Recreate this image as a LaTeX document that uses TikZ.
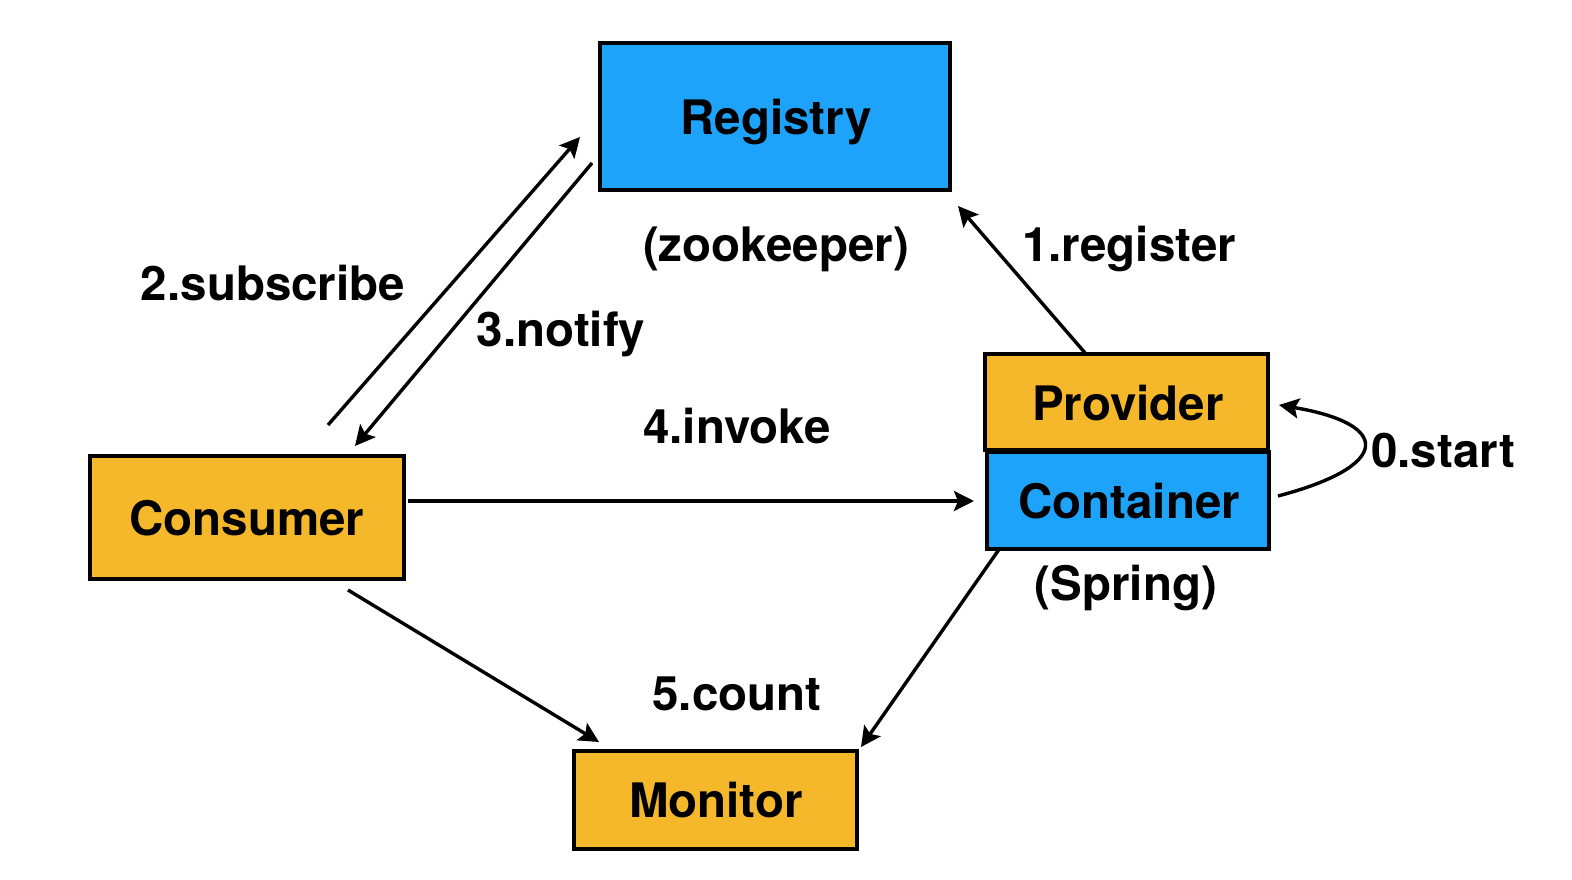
\documentclass[tikz,border=0pt]{standalone}
\usepackage{fontspec}
\setmainfont{TeX Gyre Heros}
\usetikzlibrary{arrows.meta}
\definecolor{regblue}{RGB}{30,163,250}
\definecolor{boxorange}{RGB}{246,184,43}
\tikzset{
  box/.style={draw=black, line width=4pt, inner sep=0pt, font=\fontsize{47.5}{50}\selectfont\bfseries},
  bluebox/.style={box, fill=regblue},
  orangebox/.style={box, fill=boxorange},
  lbl/.style={anchor=base, inner sep=0pt, font=\fontsize{47.5}{50}\selectfont\bfseries},
  conn/.style={line width=3.4pt, -{Stealth[length=20pt,width=20pt,inset=4pt]}}
}
\begin{document}
\begin{tikzpicture}[x=1pt,y=-1pt]
\useasboundingbox (0,0) rectangle (1572,880);
% boxes
\node[bluebox, minimum width=350pt, minimum height=147pt] (reg) at (775,116.5) {};
\node[orangebox, minimum width=314pt, minimum height=123pt] (cons) at (247,517.5) {};
\node[orangebox, minimum width=283pt, minimum height=96pt] (prov) at (1126.5,402) {};
\node[bluebox, minimum width=282pt, minimum height=97pt] (cont) at (1128,500.5) {};
\node[orangebox, minimum width=283pt, minimum height=98pt] (mon) at (715.5,800) {};
% texts
\node[lbl] (tReg) at (776,135) {Registry};
\node[lbl] (tZoo) at (776,261) {(zookeeper)};
\node[lbl] (tCons) at (247,535) {Consumer};
\node[lbl] (tProv) at (1128,420) {Provider};
\node[lbl] (tCont) at (1129,518) {Container};
\node[lbl] (tSpr) at (1126,600) {(Spring)};
\node[lbl] (tMon) at (716,817) {Monitor};
\node[lbl] (l1) at (1129,261) {1.register};
\node[lbl] (l2) at (273,300) {2.subscribe};
\node[lbl] (l3) at (561,346) {3.notify};
\node[lbl] (l4) at (737,443) {4.invoke};
\node[lbl] (l0) at (1443,467) {0.start};
\node[lbl] (l5) at (737,710) {5.count};
% connector ends
\coordinate (subA) at (328,425);
\coordinate (subB) at (580,137);
\coordinate (notA) at (592,163);
\coordinate (notB) at (355,446);
\coordinate (regA) at (1086,354);
\coordinate (regB) at (958,206);
\coordinate (invA) at (408,501);
\coordinate (invB) at (974,501);
\coordinate (cntA) at (348,590);
\coordinate (cntB) at (599,742);
\coordinate (cntC) at (1000,548);
\coordinate (cntD) at (861,747);
\coordinate (stA) at (1278,496);
\coordinate (stB) at (1279,405);
% connectors
\draw[conn] (subA) -- (subB);
\draw[conn] (notA) -- (notB);
\draw[conn] (regA) -- (regB);
\draw[conn] (invA) -- (invB);
\draw[conn] (cntA) -- (cntB);
\draw[conn] (cntC) -- (cntD);
\draw[conn] (stA) .. controls (1392,466) and (1392,424) .. (stB);
\end{tikzpicture}
\end{document}
